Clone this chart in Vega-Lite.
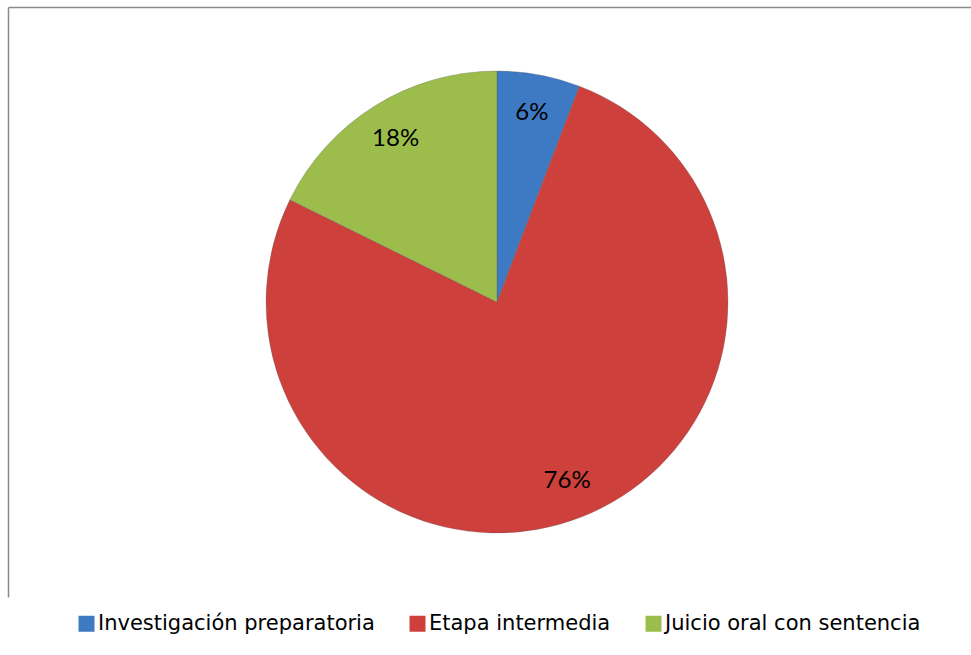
{
  "$schema": "https://vega.github.io/schema/vega-lite/v6.json",
  "autosize": "none",
  "width": 978,
  "height": 590,
  "padding": {"left": 8, "top": 7, "right": -15, "bottom": 58},
  "background": "white",
  "config": {"view": {"stroke": null}},
  "data": {
    "values": [
      {"etapa": "Investigación preparatoria", "valor": 5.8, "label": "6%", "orden": 1},
      {"etapa": "Etapa intermedia", "valor": 76.5, "label": "76%", "orden": 2},
      {"etapa": "Juicio oral con sentencia", "valor": 17.7, "label": "18%", "orden": 3}
    ]
  },
  "layer": [
    {
      "mark": {"type": "arc", "outerRadius": 231, "stroke": "#5a5a5a", "strokeWidth": 0.5, "strokeOpacity": 0.6},
      "encoding": {
        "theta": {"field": "valor", "type": "quantitative", "stack": true},
        "order": {"field": "orden", "type": "quantitative"},
        "color": {
          "field": "etapa",
          "type": "nominal",
          "sort": ["Investigación preparatoria", "Etapa intermedia", "Juicio oral con sentencia"],
          "scale": {
            "domain": ["Investigación preparatoria", "Etapa intermedia", "Juicio oral con sentencia"],
            "range": ["#3e79c3", "#cd403c", "#9cbd4c"]
          },
          "legend": {
            "orient": "none",
            "direction": "horizontal",
            "legendX": 68,
            "legendY": 606,
            "title": null,
            "padding": 0,
            "symbolType": "square",
            "symbolSize": 256,
            "symbolStrokeWidth": 0,
            "symbolOpacity": 1,
            "labelFont": "DejaVu Sans",
            "labelFontSize": 21,
            "labelColor": "#000000",
            "labelOffset": 1,
            "columnPadding": 32,
            "labelLimit": 400
          }
        }
      }
    },
    {
      "mark": {"type": "text", "radius": 192, "font": "Lato", "fontSize": 24, "color": "#000000"},
      "encoding": {
        "theta": {"field": "valor", "type": "quantitative", "stack": true},
        "order": {"field": "orden", "type": "quantitative"},
        "text": {"field": "label", "type": "nominal"}
      }
    },
    {
      "mark": {"type": "point", "opacity": 0},
      "encoding": {
        "x": {"field": "valor", "type": "quantitative", "axis": {"orient": "top", "labels": false, "ticks": false, "title": null, "grid": false, "domainColor": "#8a8a8a", "domainWidth": 1.5}},
        "y": {"field": "valor", "type": "quantitative", "axis": {"orient": "left", "labels": false, "ticks": false, "title": null, "grid": false, "domainColor": "#8a8a8a", "domainWidth": 1.5}}
      }
    }
  ]
}
